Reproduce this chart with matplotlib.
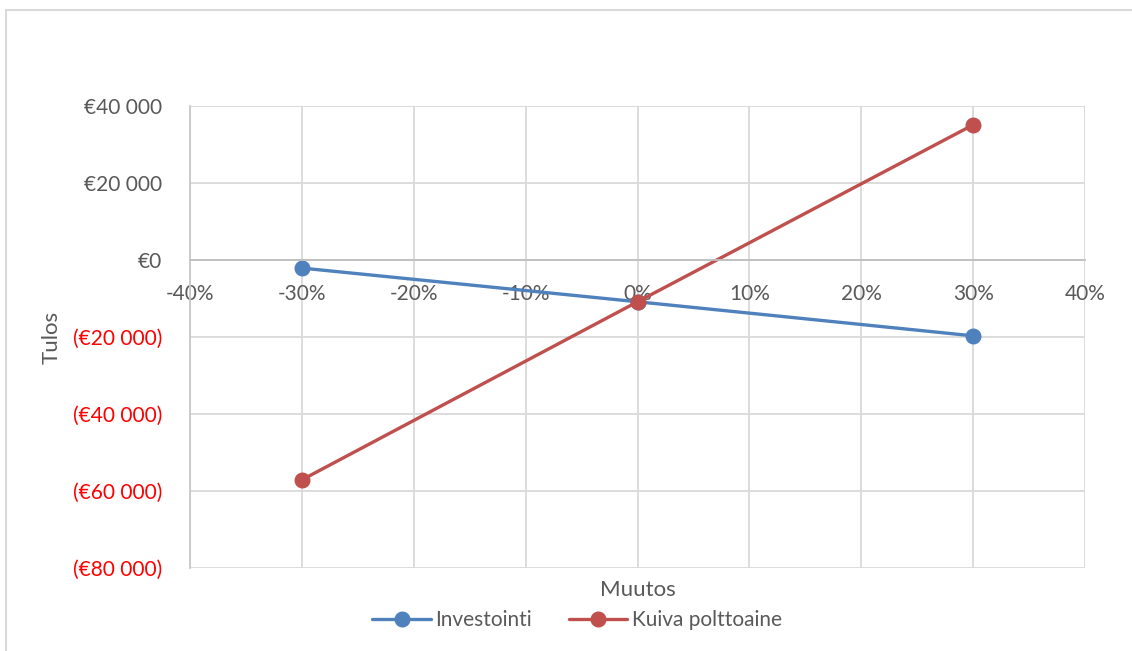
import matplotlib
matplotlib.use("Agg")
from matplotlib import pyplot as plt
from matplotlib.patches import Rectangle
from matplotlib.ticker import FuncFormatter

# sensitivity of the result to a change in each input
muutos = [-30, 0, 30]
investointi = [-2100, -10850, -19700]
kuiva_polttoaine = [-57100, -10850, 35100]

x_ticks = [-40, -30, -20, -10, 0, 10, 20, 30, 40]
y_ticks = [-80000, -60000, -40000, -20000, 0, 20000, 40000]

text_grey = "#595959"
grid_grey = "#D9D9D9"
blue = "#4F81BD"
red = "#C0504D"

plt.rcParams["font.family"] = ["Lato", "DejaVu Sans"]


def euro(v, pos=None):
    s = f"€{abs(int(v)):,}".replace(",", " ")
    return f"({s})" if v < 0 else s


fig = plt.figure(figsize=(11.32, 6.51), dpi=100)
fig.patches.append(Rectangle((6 / 1132, -0.1), 1.2, 0.1 + 1 - 10 / 651,
                             transform=fig.transFigure, fill=False,
                             edgecolor=grid_grey, lw=1.5))

ax = fig.add_axes([190 / 1132, 83 / 651, 895 / 1132, 462 / 651])

ax.plot(muutos, investointi, color=blue, lw=2.4, marker="o", ms=10.5,
        label="Investointi", solid_capstyle="round")
ax.plot(muutos, kuiva_polttoaine, color=red, lw=2.4, marker="o", ms=10.5,
        label="Kuiva polttoaine", solid_capstyle="round")

ax.set_xlim(-40, 40)
ax.set_ylim(-80000, 40000)
ax.set_xticks(x_ticks)
ax.set_yticks(y_ticks)
ax.xaxis.set_major_formatter(FuncFormatter(lambda v, p: f"{int(v)}%"))
ax.yaxis.set_major_formatter(FuncFormatter(euro))
ax.grid(True, color=grid_grey, lw=1.3)
ax.set_axisbelow(True)

for side in ["top", "right"]:
    ax.spines[side].set_visible(False)
ax.spines["left"].set_color("#C8C8C8")
ax.spines["left"].set_linewidth(1.3)
ax.spines["bottom"].set_position(("data", 0))
ax.spines["bottom"].set_color("#BFBFBF")
ax.spines["bottom"].set_linewidth(1.3)

ax.tick_params(axis="both", length=0, labelsize=15, labelcolor=text_grey)
ax.tick_params(axis="x", pad=17)
ax.tick_params(axis="y", pad=20)
for lbl, v in zip(ax.get_yticklabels(), y_ticks):
    if v < 0:
        lbl.set_color("#FF0000")

fig.text(638 / 1132, 1 - 590 / 651, "Muutos", ha="center", va="center",
         fontsize=16, color=text_grey)
fig.text(52 / 1132, 1 - 337 / 651, "Tulos", ha="center", va="center",
         rotation=90, fontsize=16, color=text_grey)

fig.legend(loc="center", bbox_to_anchor=(577 / 1132, 1 - 620 / 651), ncol=2,
           frameon=False, fontsize=15, labelcolor=text_grey,
           handlelength=2.8, handletextpad=0.2, columnspacing=1.8)

fig.savefig("out.png", dpi=100)
